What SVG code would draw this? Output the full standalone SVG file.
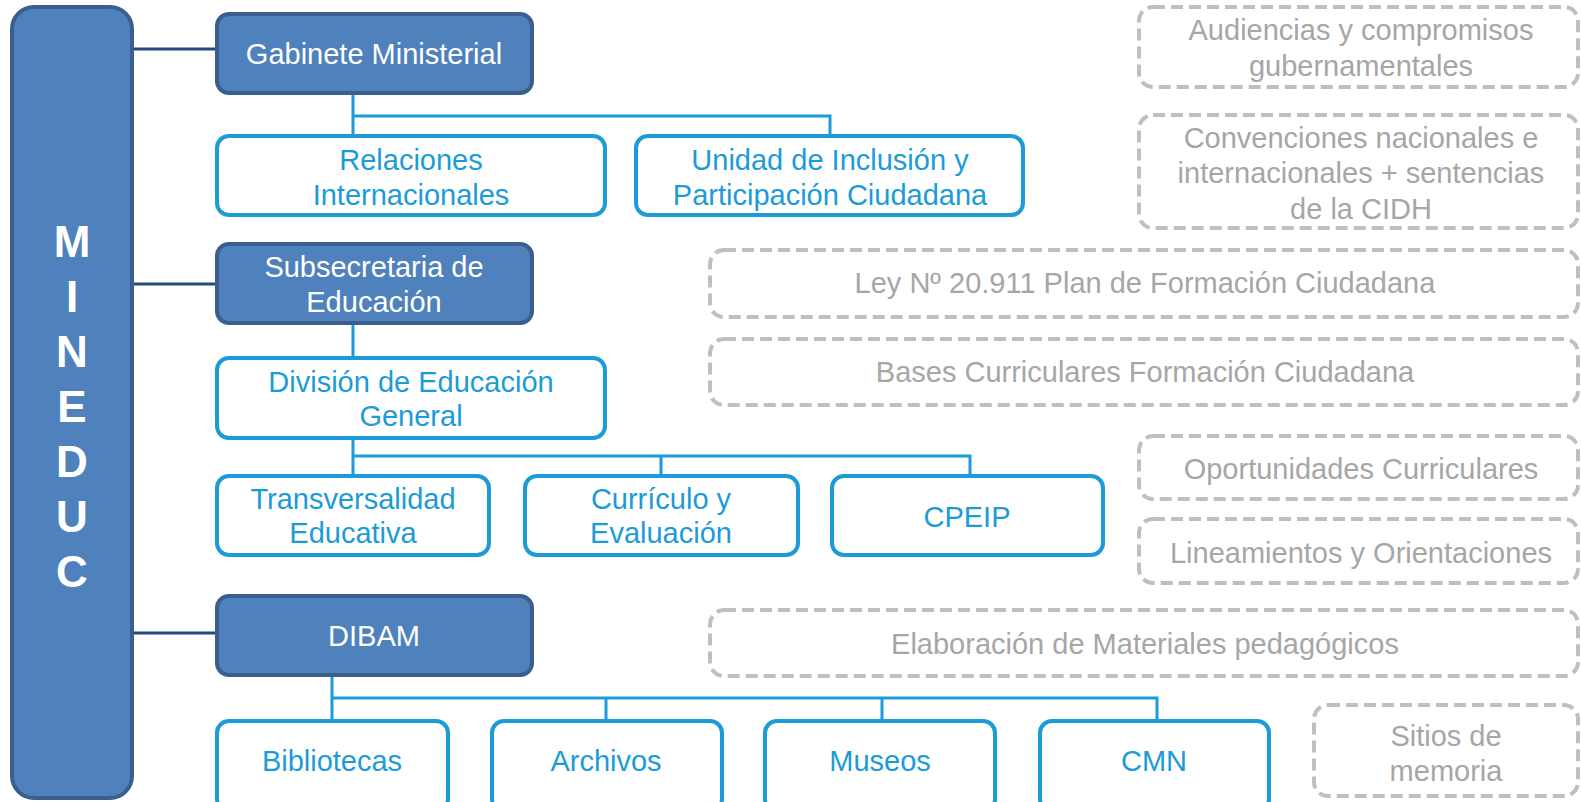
<svg xmlns="http://www.w3.org/2000/svg" width="1581" height="802" viewBox="0 0 1581 802">
<style>
.dark{fill:#4F81BD;stroke:#3A5F8F;stroke-width:4}
.light{fill:#FFFFFF;stroke:#1B9BD7;stroke-width:4}
.dash{fill:#FFFFFF;stroke:#BFBFBF;stroke-width:4;stroke-dasharray:12 6}
text{font-family:"Liberation Sans",Arial,sans-serif;font-size:29px;text-anchor:middle}
.tw{fill:#FFFFFF}
.tb{fill:#1B9BD7}
.tg{fill:#A6A6A6}
.big{font-size:44px;font-weight:bold;fill:#FFFFFF}
.cd{fill:none;stroke:#254A7D;stroke-width:3}
.cl{fill:none;stroke:#1B9BD7;stroke-width:3}
</style>
<rect width="1581" height="802" fill="#FFFFFF"/>
<g id="connectors">
<path class="cd" d="M134,49 H215 M134,284 H215 M134,633 H215"/>
<path class="cl" d="M353,95 V116 H830 V134 M353,116 V134"/>
<path class="cl" d="M353,325 V356"/>
<path class="cl" d="M353,440 V456 H970 V474 M353,456 V474 M661,456 V474"/>
<path class="cl" d="M332,677 V698 H1157 V719 M332,698 V719 M606,698 V719 M882,698 V719"/>
</g>
<g id="mineduc">
<rect class="dark" x="12" y="7" width="120" height="791" rx="22"/>
<text class="big" x="72" y="257">M</text>
<text class="big" x="72" y="312">I</text>
<text class="big" x="72" y="367">N</text>
<text class="big" x="72" y="422">E</text>
<text class="big" x="72" y="477">D</text>
<text class="big" x="72" y="532">U</text>
<text class="big" x="72" y="587">C</text>
</g>
<g id="gabinete">
<rect class="dark" x="217" y="14" width="315" height="79" rx="12"/>
<text class="tw" x="374" y="64">Gabinete Ministerial</text>
</g>
<g id="relaciones">
<rect class="light" x="217" y="136" width="388" height="79" rx="12"/>
<text class="tb" x="411" y="170">Relaciones</text>
<text class="tb" x="411" y="205">Internacionales</text>
</g>
<g id="unidad">
<rect class="light" x="636" y="136" width="387" height="79" rx="12"/>
<text class="tb" x="830" y="170">Unidad de Inclusión y</text>
<text class="tb" x="830" y="205">Participación Ciudadana</text>
</g>
<g id="subsecretaria">
<rect class="dark" x="217" y="244" width="315" height="79" rx="12"/>
<text class="tw" x="374" y="277">Subsecretaria de</text>
<text class="tw" x="374" y="312">Educación</text>
</g>
<g id="division">
<rect class="light" x="217" y="358" width="388" height="80" rx="12"/>
<text class="tb" x="411" y="392">División de Educación</text>
<text class="tb" x="411" y="426">General</text>
</g>
<g id="transversalidad">
<rect class="light" x="217" y="476" width="272" height="79" rx="12"/>
<text class="tb" x="353" y="509">Transversalidad</text>
<text class="tb" x="353" y="543">Educativa</text>
</g>
<g id="curriculo">
<rect class="light" x="525" y="476" width="273" height="79" rx="12"/>
<text class="tb" x="661" y="509">Currículo y</text>
<text class="tb" x="661" y="543">Evaluación</text>
</g>
<g id="cpeip">
<rect class="light" x="832" y="476" width="271" height="79" rx="12"/>
<text class="tb" x="967" y="527">CPEIP</text>
</g>
<g id="dibam">
<rect class="dark" x="217" y="596" width="315" height="79" rx="12"/>
<text class="tw" x="374" y="646">DIBAM</text>
</g>
<g id="bibliotecas">
<rect class="light" x="217" y="721" width="231" height="90" rx="12"/>
<text class="tb" x="332" y="771">Bibliotecas</text>
</g>
<g id="archivos">
<rect class="light" x="492" y="721" width="230" height="90" rx="12"/>
<text class="tb" x="606" y="771">Archivos</text>
</g>
<g id="museos">
<rect class="light" x="765" y="721" width="230" height="90" rx="12"/>
<text class="tb" x="880" y="771">Museos</text>
</g>
<g id="cmn">
<rect class="light" x="1040" y="721" width="229" height="90" rx="12"/>
<text class="tb" x="1154" y="771">CMN</text>
</g>
<g id="audiencias">
<rect class="dash" x="1139" y="7" width="439" height="80" rx="14"/>
<text class="tg" x="1361" y="40">Audiencias y compromisos</text>
<text class="tg" x="1361" y="76">gubernamentales</text>
</g>
<g id="convenciones">
<rect class="dash" x="1139" y="115" width="439" height="113" rx="14"/>
<text class="tg" x="1361" y="148">Convenciones nacionales e</text>
<text class="tg" x="1361" y="183">internacionales + sentencias</text>
<text class="tg" x="1361" y="219">de la CIDH</text>
</g>
<g id="ley">
<rect class="dash" x="710" y="250" width="868" height="67" rx="14"/>
<text class="tg" x="1145" y="293">Ley Nº 20.911 Plan de Formación Ciudadana</text>
</g>
<g id="bases">
<rect class="dash" x="710" y="339" width="868" height="66" rx="14"/>
<text class="tg" x="1145" y="382">Bases Curriculares Formación Ciudadana</text>
</g>
<g id="oportunidades">
<rect class="dash" x="1139" y="436" width="439" height="63" rx="14"/>
<text class="tg" x="1361" y="479">Oportunidades Curriculares</text>
</g>
<g id="lineamientos">
<rect class="dash" x="1139" y="519" width="439" height="64" rx="14"/>
<text class="tg" x="1361" y="563">Lineamientos y Orientaciones</text>
</g>
<g id="elaboracion">
<rect class="dash" x="710" y="610" width="868" height="66" rx="14"/>
<text class="tg" x="1145" y="654">Elaboración de Materiales pedagógicos</text>
</g>
<g id="sitios">
<rect class="dash" x="1314" y="705" width="264" height="91" rx="14"/>
<text class="tg" x="1446" y="746">Sitios de</text>
<text class="tg" x="1446" y="781">memoria</text>
</g>
</svg>
